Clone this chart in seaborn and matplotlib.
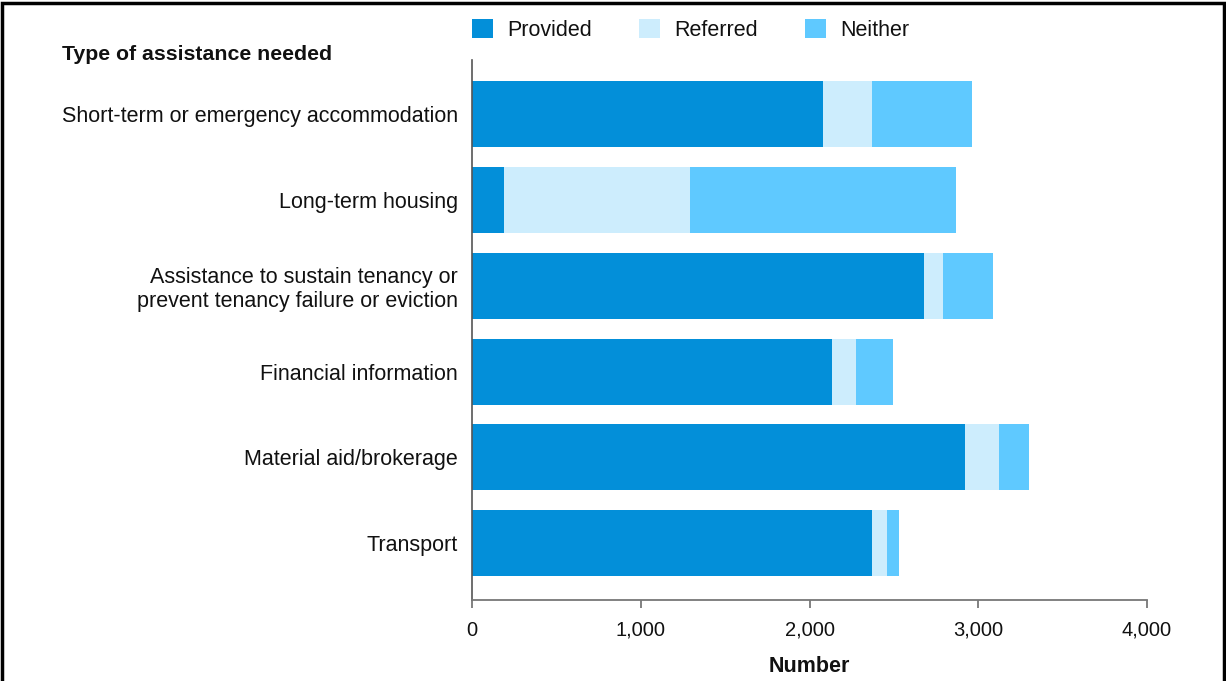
import numpy as np
import pandas as pd
import matplotlib
matplotlib.use("Agg")
import matplotlib.pyplot as plt
import seaborn as sns
from matplotlib.patches import Patch, Rectangle

categories = [
    "Short-term or emergency accommodation",
    "Long-term housing",
    "Assistance to sustain tenancy or\nprevent tenancy failure or eviction",
    "Financial information",
    "Material aid/brokerage",
    "Transport",
]
provided = [2082, 188, 2677, 2131, 2919, 2372]
referred = [287, 1104, 116, 145, 204, 87]
neither = [594, 1574, 296, 217, 175, 70]

series = ["Provided", "Referred", "Neither"]
colors = {"Provided": "#038fd9", "Referred": "#cdedfd", "Neither": "#5fc9ff"}
xticks = [0, 1000, 2000, 3000, 4000]

sns.set_theme(style="white")
plt.rcParams["font.family"] = ["Liberation Sans", "DejaVu Sans"]

df = pd.DataFrame({"category": categories, "Provided": provided,
                   "Referred": referred, "Neither": neither})
df["cum_provided"] = df["Provided"]
df["cum_referred"] = df["cum_provided"] + df["Referred"]
df["cum_neither"] = df["cum_referred"] + df["Neither"]

fig = plt.figure(figsize=(12.26, 6.81), dpi=100)
ax = fig.add_axes([0.385, 0.119, 0.5506, 0.793])

# stacked bars drawn back to front from cumulative totals
for col, name in [("cum_neither", "Neither"), ("cum_referred", "Referred"),
                  ("cum_provided", "Provided")]:
    sns.barplot(data=df, y="category", x=col, order=categories, orient="h",
                color=colors[name], width=0.77, linewidth=0, saturation=1,
                ax=ax)

ax.set_xlim(0, 4000)
ax.set_ylim(5.66, -0.63)
ax.set_xticks(xticks)
ax.set_xticklabels([f"{v:,}" for v in xticks], fontsize=14.5, color="#111111")
ax.tick_params(axis="x", bottom=True, direction="out", length=6, width=1.3,
               color="#777777", pad=9)
ax.tick_params(axis="y", left=False, length=0, pad=10, labelsize=15.5,
               labelcolor="#111111")
for lbl in ax.get_yticklabels():
    lbl.set_horizontalalignment("right")
    lbl.set_multialignment("right")
    lbl.set_linespacing(1.15)
ax.set_ylabel("")
ax.set_xlabel("Number", fontsize=15.5, fontweight="bold", labelpad=12,
              color="#111111")
for s in ["top", "right"]:
    ax.spines[s].set_visible(False)
ax.spines["left"].set_color("#555555")
ax.spines["bottom"].set_color("#777777")
ax.spines["left"].set_linewidth(1.2)
ax.spines["bottom"].set_linewidth(1.3)

fig.text(62 / 1226, 1 - 54 / 681, "Type of assistance needed", fontsize=15.3,
         fontweight="bold", ha="left", va="center", color="#111111")

handles = [Patch(facecolor=colors[s], edgecolor="none", label=s) for s in series]
fig.legend(handles=handles, loc="center left", ncol=3, frameon=False,
           bbox_to_anchor=(453 / 1226, 1 - 30 / 681), fontsize=15.5,
           handlelength=0.97, handleheight=0.97, handletextpad=0.65,
           columnspacing=2.2, labelcolor="#111111")

fig.patches.append(Rectangle((0.002, -0.01), 0.996, 1.006, transform=fig.transFigure,
                             fill=False, edgecolor="black", linewidth=2.5))

fig.savefig("out.png", dpi=100)
